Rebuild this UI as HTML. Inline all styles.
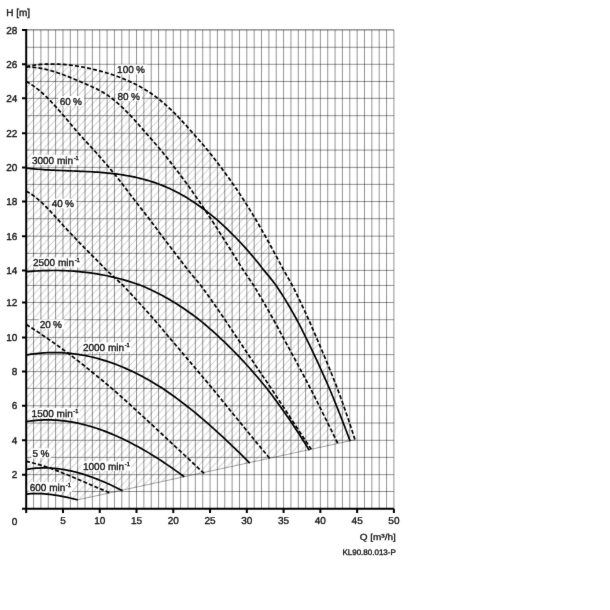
<!DOCTYPE html><html><head><meta charset="utf-8"><style>html,body{margin:0;padding:0;background:#fff;width:610px;height:610px;overflow:hidden}svg{display:block;will-change:transform}text{text-rendering:geometricPrecision;font-family:"Liberation Sans",sans-serif;fill:#141414;stroke:#141414;stroke-width:0.35px}</style></head><body>
<svg width="610" height="610" viewBox="0 0 610 610">
<defs><filter id="bl" color-interpolation-filters="sRGB" x="0" y="0" width="610" height="610" filterUnits="userSpaceOnUse"><feConvolveMatrix order="3" kernelMatrix="0.00524 0.06192 0.00524 0.06192 0.73137 0.06192 0.00524 0.06192 0.00524" edgeMode="duplicate"/></filter></defs>
<g filter="url(#bl)">
<rect width="610" height="610" fill="#fff"/>
<defs>
<pattern id="hp" patternUnits="userSpaceOnUse" x="26.200" y="509.000" width="7.354" height="7.942">
<path d="M0 7.942 L7.354 0 M-7.354 7.942 L0.000 0.000 M0.000 15.885 L14.708 0.000" stroke="#000" stroke-opacity="0.28" stroke-width="0.8" fill="none"/>
</pattern>
<clipPath id="hc"><polygon points="26.20,66.54 28.67,66.07 31.14,65.65 33.61,65.27 36.09,64.95 38.56,64.68 41.03,64.46 43.50,64.28 45.97,64.15 48.44,64.07 50.92,64.03 53.39,64.03 55.86,64.08 58.33,64.17 60.80,64.29 63.27,64.46 65.75,64.67 68.22,64.91 70.69,65.19 73.16,65.51 75.63,65.86 78.10,66.25 80.58,66.67 83.05,67.12 85.52,67.60 87.99,68.12 90.46,68.66 92.93,69.23 95.41,69.83 97.88,70.45 100.35,71.11 102.82,71.78 105.29,72.49 107.76,73.22 110.23,73.99 112.71,74.79 115.18,75.64 117.65,76.52 120.12,77.44 122.59,78.41 125.06,79.43 127.54,80.50 130.01,81.62 132.48,82.77 134.95,83.98 137.42,85.25 139.89,86.58 142.37,87.98 144.84,89.44 147.31,90.97 149.78,92.57 152.25,94.24 154.72,95.99 157.20,97.82 159.67,99.77 162.14,101.82 164.61,103.95 167.08,106.15 169.55,108.42 172.02,110.77 174.50,113.18 176.97,115.66 179.44,118.24 181.91,120.87 184.38,123.56 186.85,126.30 189.33,129.09 191.80,131.92 194.27,134.73 196.74,137.50 199.21,140.31 201.68,143.16 204.16,146.05 206.63,148.98 209.10,152.01 211.57,155.12 214.04,158.28 216.51,161.48 218.99,164.74 221.46,168.04 223.93,171.34 226.40,174.70 228.87,178.12 231.34,181.59 233.82,185.13 236.29,188.77 238.76,192.46 241.23,196.21 243.70,200.02 246.17,203.89 248.64,207.82 251.12,211.82 253.59,215.87 256.06,220.00 258.53,224.24 261.00,228.54 263.47,232.90 265.95,237.31 268.42,241.75 270.89,246.25 273.36,250.81 275.83,255.41 278.30,260.03 280.78,264.70 283.25,269.43 285.72,273.77 288.19,278.05 290.66,282.38 293.13,286.92 295.61,291.93 298.08,297.00 300.55,302.12 303.02,307.36 305.49,312.66 307.96,318.04 310.43,323.60 312.91,329.29 315.38,335.06 317.85,340.81 320.32,346.59 322.79,352.46 325.26,358.37 327.74,364.36 330.21,370.44 332.68,376.58 335.15,382.81 337.62,389.20 340.09,395.92 342.57,402.79 345.04,409.79 347.51,416.94 349.98,424.27 352.45,431.80 354.92,439.53 354.92,439.78 77.68,499.83 77.68,499.83 75.10,499.21 72.53,498.60 69.96,498.01 67.38,497.44 64.81,496.90 62.23,496.38 59.66,495.90 57.09,495.46 54.51,495.05 51.94,494.69 49.37,494.37 46.79,494.10 44.22,493.88 41.64,493.72 39.07,493.62 36.50,493.58 33.92,493.60 31.35,493.70 28.77,493.86 26.20,494.11"/></clipPath>
</defs>
<rect x="0" y="0" width="610" height="610" fill="url(#hp)" clip-path="url(#hc)"/>
<path d="M33.55 29.90 V508.85 M40.91 29.90 V508.85 M48.26 29.90 V508.85 M55.62 29.90 V508.85 M62.97 29.90 V508.85 M70.32 29.90 V508.85 M77.68 29.90 V508.85 M85.03 29.90 V508.85 M92.39 29.90 V508.85 M99.74 29.90 V508.85 M107.09 29.90 V508.85 M114.45 29.90 V508.85 M121.80 29.90 V508.85 M129.16 29.90 V508.85 M136.51 29.90 V508.85 M143.86 29.90 V508.85 M151.22 29.90 V508.85 M158.57 29.90 V508.85 M165.93 29.90 V508.85 M173.28 29.90 V508.85 M180.63 29.90 V508.85 M187.99 29.90 V508.85 M195.34 29.90 V508.85 M202.70 29.90 V508.85 M210.05 29.90 V508.85 M217.40 29.90 V508.85 M224.76 29.90 V508.85 M232.11 29.90 V508.85 M239.47 29.90 V508.85 M246.82 29.90 V508.85 M254.17 29.90 V508.85 M261.53 29.90 V508.85 M268.88 29.90 V508.85 M276.24 29.90 V508.85 M283.59 29.90 V508.85 M290.94 29.90 V508.85 M298.30 29.90 V508.85 M305.65 29.90 V508.85 M313.01 29.90 V508.85 M320.36 29.90 V508.85 M327.71 29.90 V508.85 M335.07 29.90 V508.85 M342.42 29.90 V508.85 M349.78 29.90 V508.85 M357.13 29.90 V508.85 M364.48 29.90 V508.85 M371.84 29.90 V508.85 M379.19 29.90 V508.85 M386.55 29.90 V508.85 M393.90 29.90 V508.85 M26.20 491.50 H393.90 M26.20 474.65 H393.90 M26.20 457.39 H393.90 M26.20 440.30 H393.90 M26.20 423.02 H393.90 M26.20 405.77 H393.90 M26.20 388.40 H393.90 M26.20 371.60 H393.90 M26.20 354.60 H393.90 M26.20 337.40 H393.90 M26.20 319.70 H393.90 M26.20 302.50 H393.90 M26.20 285.45 H393.90 M26.20 270.40 H393.90 M26.20 253.39 H393.90 M26.20 236.15 H393.90 M26.20 218.74 H393.90 M26.20 201.56 H393.90 M26.20 184.38 H393.90 M26.20 167.40 H393.90 M26.20 150.08 H393.90 M26.20 133.28 H393.90 M26.20 115.66 H393.90 M26.20 98.33 H393.90 M26.20 81.48 H393.90 M26.20 64.30 H393.90 M26.20 47.25 H393.90 M26.20 29.90 H393.90" stroke="#000" stroke-opacity="0.42" stroke-width="1" fill="none"/>
<path d="M26.20 29.90 H393.90" stroke="#000" stroke-opacity="0.42" stroke-width="0.7" fill="none"/>
<path d="M77.68 499.83 L354.92 439.78" stroke="#000" stroke-opacity="0.45" stroke-width="0.8" fill="none"/>
<rect x="115.90" y="64.60" width="31.05" height="9.80" fill="#fff"/>
<rect x="116.30" y="91.10" width="25.49" height="9.80" fill="#fff"/>
<rect x="58.50" y="96.10" width="25.49" height="9.80" fill="#fff"/>
<rect x="50.50" y="198.60" width="25.49" height="9.80" fill="#fff"/>
<rect x="38.50" y="319.30" width="25.49" height="9.80" fill="#fff"/>
<rect x="31.40" y="448.40" width="19.93" height="9.80" fill="#fff"/>
<rect x="30.70" y="155.10" width="49.33" height="9.80" fill="#fff"/>
<rect x="31.70" y="257.50" width="49.33" height="9.80" fill="#fff"/>
<rect x="81.70" y="342.20" width="49.33" height="9.80" fill="#fff"/>
<rect x="30.40" y="408.10" width="49.33" height="9.80" fill="#fff"/>
<rect x="81.80" y="461.20" width="49.33" height="9.80" fill="#fff"/>
<rect x="28.50" y="482.10" width="43.77" height="9.80" fill="#fff"/>
<path d="M26.20 168.07 L28.67 168.35 L31.15 168.61 L33.62 168.84 L36.09 169.06 L38.56 169.26 L41.04 169.45 L43.51 169.62 L45.98 169.78 L48.46 169.92 L50.93 170.06 L53.40 170.18 L55.87 170.30 L58.35 170.41 L60.82 170.51 L63.29 170.61 L65.77 170.70 L68.24 170.80 L70.71 170.89 L73.18 170.98 L75.66 171.08 L78.13 171.17 L80.60 171.28 L83.08 171.38 L85.55 171.50 L88.02 171.62 L90.49 171.75 L92.97 171.90 L95.44 172.05 L97.91 172.22 L100.39 172.40 L102.86 172.60 L105.33 172.81 L107.80 173.05 L110.28 173.30 L112.75 173.57 L115.22 173.87 L117.70 174.19 L120.17 174.53 L122.64 174.90 L125.11 175.30 L127.59 175.72 L130.06 176.18 L132.53 176.66 L135.01 177.18 L137.48 177.74 L139.95 178.32 L142.42 178.95 L144.90 179.61 L147.37 180.31 L149.84 181.04 L152.32 181.82 L154.79 182.65 L157.26 183.51 L159.73 184.43 L162.21 185.40 L164.68 186.41 L167.15 187.48 L169.63 188.60 L172.10 189.76 L174.57 190.98 L177.04 192.25 L179.52 193.57 L181.99 194.93 L184.46 196.35 L186.94 197.82 L189.41 199.35 L191.88 200.92 L194.35 202.54 L196.83 204.22 L199.30 205.94 L201.77 207.72 L204.25 209.55 L206.72 211.43 L209.19 213.36 L211.66 215.34 L214.14 217.37 L216.61 219.47 L219.08 221.64 L221.56 223.86 L224.03 226.13 L226.50 228.46 L228.97 230.84 L231.45 233.27 L233.92 235.75 L236.39 238.27 L238.87 240.85 L241.34 243.48 L243.81 246.17 L246.28 248.92 L248.76 251.74 L251.23 254.61 L253.70 257.52 L256.18 260.51 L258.65 263.57 L261.12 266.70 L263.59 269.91 L266.07 272.87 L268.54 275.85 L271.01 278.90 L273.49 282.03 L275.96 285.23 L278.43 288.93 L280.90 292.74 L283.38 296.64 L285.85 300.64 L288.32 304.75 L290.80 308.99 L293.27 313.32 L295.74 317.76 L298.21 322.38 L300.69 327.17 L303.16 332.08 L305.63 337.09 L308.11 342.07 L310.58 347.15 L313.05 352.33 L315.52 357.57 L318.00 362.89 L320.47 368.31 L322.94 373.79 L325.42 379.33 L327.89 384.97 L330.36 390.77 L332.83 396.78 L335.31 402.89 L337.78 409.06 L340.25 415.30 L342.73 421.63 L345.20 428.05 L347.67 434.56 L350.14 441.15" stroke="#000" stroke-width="1.7" fill="none" stroke-linejoin="round"/>
<path d="M26.20 271.77 L28.68 271.55 L31.17 271.36 L33.65 271.18 L36.13 271.02 L38.62 270.88 L41.10 270.76 L43.59 270.66 L46.07 270.58 L48.55 270.53 L51.04 270.49 L53.52 270.48 L56.00 270.48 L58.49 270.51 L60.97 270.56 L63.45 270.63 L65.94 270.73 L68.42 270.84 L70.90 270.98 L73.39 271.15 L75.87 271.33 L78.36 271.54 L80.84 271.78 L83.32 272.04 L85.81 272.32 L88.29 272.63 L90.77 272.96 L93.26 273.32 L95.74 273.70 L98.22 274.11 L100.71 274.55 L103.19 275.01 L105.67 275.50 L108.16 276.01 L110.64 276.55 L113.13 277.12 L115.61 277.72 L118.09 278.35 L120.58 279.00 L123.06 279.68 L125.54 280.39 L128.03 281.13 L130.51 281.89 L132.99 282.69 L135.48 283.52 L137.96 284.37 L140.45 285.26 L142.93 286.27 L145.41 287.34 L147.90 288.45 L150.38 289.59 L152.86 290.77 L155.35 291.98 L157.83 293.23 L160.31 294.52 L162.80 295.84 L165.28 297.20 L167.76 298.59 L170.25 300.03 L172.73 301.50 L175.22 303.01 L177.70 304.57 L180.18 306.17 L182.67 307.81 L185.15 309.49 L187.63 311.21 L190.12 312.97 L192.60 314.77 L195.08 316.61 L197.57 318.49 L200.05 320.43 L202.53 322.45 L205.02 324.51 L207.50 326.62 L209.99 328.77 L212.47 330.97 L214.95 333.20 L217.44 335.49 L219.92 337.80 L222.40 340.11 L224.89 342.46 L227.37 344.85 L229.85 347.29 L232.34 349.77 L234.82 352.30 L237.30 354.87 L239.79 357.46 L242.27 360.10 L244.76 362.78 L247.24 365.51 L249.72 368.28 L252.21 371.10 L254.69 373.94 L257.17 376.82 L259.66 379.75 L262.14 382.72 L264.62 385.75 L267.11 388.83 L269.59 392.05 L272.08 395.33 L274.56 398.65 L277.04 402.03 L279.53 405.45 L282.01 408.91 L284.49 412.41 L286.98 415.97 L289.46 419.58 L291.94 423.23 L294.43 426.95 L296.91 430.72 L299.39 434.55 L301.88 438.42 L304.36 442.33 L306.85 446.27 L309.33 450.27" stroke="#000" stroke-width="1.7" fill="none" stroke-linejoin="round"/>
<path d="M26.20 354.98 L28.68 354.56 L31.17 354.18 L33.65 353.84 L36.14 353.54 L38.62 353.28 L41.10 353.05 L43.59 352.87 L46.07 352.73 L48.56 352.62 L51.04 352.56 L53.52 352.53 L56.01 352.55 L58.49 352.60 L60.98 352.69 L63.46 352.82 L65.94 352.99 L68.43 353.19 L70.91 353.44 L73.40 353.73 L75.88 354.05 L78.36 354.41 L80.85 354.81 L83.33 355.24 L85.82 355.71 L88.30 356.22 L90.78 356.77 L93.27 357.36 L95.75 357.98 L98.24 358.64 L100.72 359.34 L103.20 360.07 L105.69 360.84 L108.17 361.65 L110.66 362.50 L113.14 363.38 L115.62 364.31 L118.11 365.26 L120.59 366.26 L123.08 367.29 L125.56 368.36 L128.04 369.47 L130.53 370.61 L133.01 371.79 L135.50 372.99 L137.98 374.23 L140.46 375.50 L142.95 376.81 L145.43 378.16 L147.92 379.54 L150.40 380.96 L152.88 382.41 L155.37 383.90 L157.85 385.42 L160.34 386.97 L162.82 388.56 L165.30 390.24 L167.79 391.94 L170.27 393.68 L172.76 395.45 L175.24 397.26 L177.73 399.09 L180.21 400.96 L182.69 402.85 L185.18 404.77 L187.66 406.72 L190.15 408.69 L192.63 410.69 L195.11 412.71 L197.60 414.76 L200.08 416.84 L202.57 418.94 L205.05 421.07 L207.53 423.22 L210.02 425.41 L212.50 427.61 L214.99 429.84 L217.47 432.10 L219.95 434.37 L222.44 436.67 L224.92 438.99 L227.41 441.32 L229.89 443.66 L232.37 446.01 L234.86 448.39 L237.34 450.78 L239.83 453.20 L242.31 455.63 L244.79 458.09 L247.28 460.58 L249.76 463.08" stroke="#000" stroke-width="1.7" fill="none" stroke-linejoin="round"/>
<path d="M26.20 421.65 L28.71 421.25 L31.22 420.91 L33.73 420.62 L36.24 420.38 L38.75 420.19 L41.26 420.05 L43.77 419.95 L46.28 419.91 L48.79 419.91 L51.30 419.95 L53.81 420.05 L56.32 420.18 L58.83 420.37 L61.34 420.60 L63.85 420.87 L66.36 421.19 L68.86 421.55 L71.37 421.95 L73.88 422.40 L76.39 422.89 L78.90 423.42 L81.41 423.99 L83.92 424.60 L86.43 425.25 L88.94 425.95 L91.45 426.68 L93.96 427.45 L96.47 428.26 L98.98 429.10 L101.49 429.99 L104.00 430.91 L106.51 431.87 L109.02 432.86 L111.53 433.89 L114.04 434.96 L116.55 436.05 L119.06 437.19 L121.57 438.35 L124.08 439.55 L126.59 440.78 L129.10 442.03 L131.61 443.31 L134.12 444.63 L136.63 445.97 L139.14 447.34 L141.65 448.75 L144.16 450.18 L146.67 451.64 L149.18 453.13 L151.68 454.65 L154.19 456.19 L156.70 457.76 L159.21 459.38 L161.72 461.02 L164.23 462.68 L166.74 464.37 L169.25 466.09 L171.76 467.82 L174.27 469.59 L176.78 471.37 L179.29 473.18 L181.80 475.00 L184.31 476.81" stroke="#000" stroke-width="1.7" fill="none" stroke-linejoin="round"/>
<path d="M26.20 469.47 L28.74 469.05 L31.27 468.70 L33.81 468.41 L36.34 468.19 L38.88 468.03 L41.41 467.93 L43.95 467.89 L46.48 467.91 L49.02 467.99 L51.55 468.13 L54.09 468.32 L56.62 468.57 L59.16 468.87 L61.69 469.23 L64.23 469.64 L66.76 470.10 L69.30 470.61 L71.83 471.17 L74.37 471.78 L76.90 472.44 L79.44 473.14 L81.97 473.89 L84.51 474.68 L87.04 475.50 L89.58 476.35 L92.12 477.25 L94.65 478.19 L97.19 479.16 L99.72 480.17 L102.26 481.22 L104.79 482.30 L107.33 483.42 L109.86 484.57 L112.40 485.76 L114.93 486.97 L117.47 488.22 L120.00 489.49 L122.54 490.80" stroke="#000" stroke-width="1.7" fill="none" stroke-linejoin="round"/>
<path d="M26.20 494.11 L28.77 493.86 L31.35 493.70 L33.92 493.60 L36.50 493.58 L39.07 493.62 L41.64 493.72 L44.22 493.88 L46.79 494.10 L49.37 494.37 L51.94 494.69 L54.51 495.05 L57.09 495.46 L59.66 495.90 L62.23 496.38 L64.81 496.90 L67.38 497.44 L69.96 498.01 L72.53 498.60 L75.10 499.21 L77.68 499.83" stroke="#000" stroke-width="1.7" fill="none" stroke-linejoin="round"/>
<path d="M26.20 66.54 L28.67 66.07 L31.14 65.65 L33.61 65.27 L36.09 64.95 L38.56 64.68 L41.03 64.46 L43.50 64.28 L45.97 64.15 L48.44 64.07 L50.92 64.03 L53.39 64.03 L55.86 64.08 L58.33 64.17 L60.80 64.29 L63.27 64.46 L65.75 64.67 L68.22 64.91 L70.69 65.19 L73.16 65.51 L75.63 65.86 L78.10 66.25 L80.58 66.67 L83.05 67.12 L85.52 67.60 L87.99 68.12 L90.46 68.66 L92.93 69.23 L95.41 69.83 L97.88 70.45 L100.35 71.11 L102.82 71.78 L105.29 72.49 L107.76 73.22 L110.23 73.99 L112.71 74.79 L115.18 75.64 L117.65 76.52 L120.12 77.44 L122.59 78.41 L125.06 79.43 L127.54 80.50 L130.01 81.62 L132.48 82.77 L134.95 83.98 L137.42 85.25 L139.89 86.58 L142.37 87.98 L144.84 89.44 L147.31 90.97 L149.78 92.57 L152.25 94.24 L154.72 95.99 L157.20 97.82 L159.67 99.77 L162.14 101.82 L164.61 103.95 L167.08 106.15 L169.55 108.42 L172.02 110.77 L174.50 113.18 L176.97 115.66 L179.44 118.24 L181.91 120.87 L184.38 123.56 L186.85 126.30 L189.33 129.09 L191.80 131.92 L194.27 134.73 L196.74 137.50 L199.21 140.31 L201.68 143.16 L204.16 146.05 L206.63 148.98 L209.10 152.01 L211.57 155.12 L214.04 158.28 L216.51 161.48 L218.99 164.74 L221.46 168.04 L223.93 171.34 L226.40 174.70 L228.87 178.12 L231.34 181.59 L233.82 185.13 L236.29 188.77 L238.76 192.46 L241.23 196.21 L243.70 200.02 L246.17 203.89 L248.64 207.82 L251.12 211.82 L253.59 215.87 L256.06 220.00 L258.53 224.24 L261.00 228.54 L263.47 232.90 L265.95 237.31 L268.42 241.75 L270.89 246.25 L273.36 250.81 L275.83 255.41 L278.30 260.03 L280.78 264.70 L283.25 269.43 L285.72 273.77 L288.19 278.05 L290.66 282.38 L293.13 286.92 L295.61 291.93 L298.08 297.00 L300.55 302.12 L303.02 307.36 L305.49 312.66 L307.96 318.04 L310.43 323.60 L312.91 329.29 L315.38 335.06 L317.85 340.81 L320.32 346.59 L322.79 352.46 L325.26 358.37 L327.74 364.36 L330.21 370.44 L332.68 376.58 L335.15 382.81 L337.62 389.20 L340.09 395.92 L342.57 402.79 L345.04 409.79 L347.51 416.94 L349.98 424.27 L352.45 431.80 L354.92 439.53" stroke="#000" stroke-width="1.7" fill="none" stroke-dasharray="4.020 2.111"/>
<path d="M26.20 66.87 L28.67 66.93 L31.14 67.06 L33.62 67.28 L36.09 67.57 L38.56 67.93 L41.03 68.36 L43.50 68.86 L45.97 69.41 L48.45 70.03 L50.92 70.70 L53.39 71.42 L55.86 72.20 L58.33 73.01 L60.80 73.87 L63.28 74.76 L65.75 75.69 L68.22 76.65 L70.69 77.64 L73.16 78.65 L75.64 79.68 L78.11 80.73 L80.58 81.78 L83.05 82.84 L85.52 83.89 L87.99 84.96 L90.47 86.05 L92.94 87.17 L95.41 88.34 L97.88 89.57 L100.35 90.87 L102.82 92.27 L105.30 93.76 L107.77 95.38 L110.24 97.11 L112.71 98.98 L115.18 101.00 L117.66 103.13 L120.13 105.36 L122.60 107.67 L125.07 110.07 L127.54 112.55 L130.01 115.10 L132.49 117.75 L134.96 120.47 L137.43 123.23 L139.90 126.03 L142.37 128.87 L144.84 131.74 L147.32 134.57 L149.79 137.36 L152.26 140.16 L154.73 143.00 L157.20 145.87 L159.68 148.76 L162.15 151.74 L164.62 154.80 L167.09 157.89 L169.56 161.02 L172.03 164.19 L174.51 167.41 L176.98 170.60 L179.45 173.84 L181.92 177.12 L184.39 180.45 L186.86 183.83 L189.34 187.28 L191.81 190.77 L194.28 194.31 L196.75 197.88 L199.22 201.49 L201.70 205.12 L204.17 208.79 L206.64 212.48 L209.11 216.20 L211.58 219.96 L214.05 223.78 L216.53 227.62 L219.00 231.48 L221.47 235.37 L223.94 239.25 L226.41 243.14 L228.88 247.06 L231.36 251.01 L233.83 254.96 L236.30 258.90 L238.77 262.86 L241.24 266.85 L243.71 270.82 L246.19 274.39 L248.66 277.99 L251.13 281.61 L253.60 285.26 L256.07 289.39 L258.55 293.57 L261.02 297.78 L263.49 302.02 L265.96 306.32 L268.43 310.65 L270.90 315.01 L273.38 319.39 L275.85 323.93 L278.32 328.50 L280.79 333.10 L283.26 337.73 L285.73 342.25 L288.21 346.81 L290.68 351.40 L293.15 355.99 L295.62 360.58 L298.09 365.20 L300.57 369.84 L303.04 374.47 L305.51 379.11 L307.98 383.77 L310.45 388.46 L312.92 393.34 L315.40 398.24 L317.87 403.17 L320.34 408.10 L322.81 413.04 L325.28 418.01 L327.75 423.01 L330.23 428.03 L332.70 433.08 L335.17 438.16 L337.64 443.23" stroke="#000" stroke-width="1.7" fill="none" stroke-dasharray="4.020 2.110"/>
<path d="M26.20 81.49 L28.68 82.85 L31.16 84.38 L33.64 86.07 L36.12 87.90 L38.60 89.87 L41.08 91.97 L43.55 94.19 L46.03 96.51 L48.51 98.95 L50.99 101.52 L53.47 104.18 L55.95 106.90 L58.43 109.69 L60.91 112.52 L63.39 115.38 L65.87 118.32 L68.35 121.28 L70.83 124.24 L73.31 127.20 L75.79 130.14 L78.26 133.06 L80.74 135.82 L83.22 138.54 L85.70 141.24 L88.18 143.93 L90.66 146.61 L93.14 149.30 L95.62 152.05 L98.10 154.84 L100.58 157.66 L103.06 160.50 L105.54 163.39 L108.02 166.32 L110.49 169.26 L112.97 172.24 L115.45 175.28 L117.93 178.39 L120.41 181.55 L122.89 184.76 L125.37 188.02 L127.85 191.30 L130.33 194.58 L132.81 197.85 L135.29 201.09 L137.77 204.30 L140.25 207.47 L142.73 210.62 L145.20 213.77 L147.68 216.93 L150.16 220.13 L152.64 223.41 L155.12 226.72 L157.60 230.06 L160.08 233.41 L162.56 236.76 L165.04 240.07 L167.52 243.35 L170.00 246.60 L172.48 249.84 L174.96 253.07 L177.43 256.26 L179.91 259.46 L182.39 262.69 L184.87 265.94 L187.35 269.21 L189.83 272.27 L192.31 275.21 L194.79 278.17 L197.27 281.15 L199.75 284.15 L202.23 287.39 L204.71 290.82 L207.19 294.28 L209.67 297.75 L212.14 301.24 L214.62 304.77 L217.10 308.32 L219.58 311.89 L222.06 315.48 L224.54 319.08 L227.02 322.78 L229.50 326.50 L231.98 330.25 L234.46 334.00 L236.94 337.75 L239.42 341.42 L241.90 345.10 L244.37 348.78 L246.85 352.47 L249.33 356.15 L251.81 359.82 L254.29 363.48 L256.77 367.16 L259.25 370.84 L261.73 374.48 L264.21 378.13 L266.69 381.78 L269.17 385.43 L271.65 389.11 L274.13 392.89 L276.60 396.68 L279.08 400.46 L281.56 404.25 L284.04 408.03 L286.52 411.79 L289.00 415.56 L291.48 419.33 L293.96 423.10 L296.44 426.87 L298.92 430.64 L301.40 434.41 L303.88 438.18 L306.36 441.93 L308.84 445.66 L311.31 449.38" stroke="#000" stroke-width="1.7" fill="none" stroke-dasharray="3.996 2.098"/>
<path d="M26.20 191.26 L28.68 192.55 L31.17 194.06 L33.65 195.78 L36.14 197.69 L38.62 199.77 L41.10 201.99 L43.59 204.35 L46.07 206.82 L48.55 209.38 L51.04 212.02 L53.52 214.70 L56.01 217.43 L58.49 220.18 L60.97 222.96 L63.46 225.70 L65.94 228.42 L68.43 231.09 L70.91 233.74 L73.39 236.36 L75.88 238.94 L78.36 241.50 L80.84 244.04 L83.33 246.57 L85.81 249.10 L88.30 251.63 L90.78 254.15 L93.26 256.65 L95.75 259.16 L98.23 261.68 L100.72 264.21 L103.20 266.75 L105.68 269.29 L108.17 271.68 L110.65 273.96 L113.13 276.24 L115.62 278.53 L118.10 280.83 L120.59 283.14 L123.07 285.46 L125.55 288.10 L128.04 290.75 L130.52 293.42 L133.01 296.09 L135.49 298.78 L137.97 301.48 L140.46 304.21 L142.94 306.97 L145.42 309.73 L147.91 312.51 L150.39 315.30 L152.88 318.11 L155.36 320.97 L157.84 323.88 L160.33 326.82 L162.81 329.76 L165.30 332.72 L167.78 335.68 L170.26 338.63 L172.75 341.53 L175.23 344.45 L177.71 347.38 L180.20 350.32 L182.68 353.26 L185.17 356.20 L187.65 359.13 L190.13 362.06 L192.62 365.00 L195.10 367.95 L197.59 370.91 L200.07 373.85 L202.55 376.78 L205.04 379.72 L207.52 382.66 L210.00 385.61 L212.49 388.56 L214.97 391.61 L217.46 394.67 L219.94 397.73 L222.42 400.79 L224.91 403.85 L227.39 406.91 L229.88 409.95 L232.36 412.99 L234.84 416.04 L237.33 419.08 L239.81 422.12 L242.30 425.16 L244.78 428.20 L247.26 431.24 L249.75 434.28 L252.23 437.31 L254.71 440.34 L257.20 443.34 L259.68 446.32 L262.17 449.31 L264.65 452.28 L267.13 455.25 L269.62 458.23" stroke="#000" stroke-width="1.7" fill="none" stroke-dasharray="3.980 2.089"/>
<path d="M26.20 324.55 L28.71 326.09 L31.21 327.67 L33.72 329.26 L36.23 330.89 L38.73 332.55 L41.24 334.23 L43.75 335.93 L46.25 337.66 L48.76 339.36 L51.27 341.10 L53.77 342.85 L56.28 344.63 L58.79 346.43 L61.29 348.25 L63.80 350.10 L66.31 351.96 L68.81 353.85 L71.32 355.74 L73.82 357.65 L76.33 359.57 L78.84 361.51 L81.34 363.47 L83.85 365.45 L86.36 367.45 L88.86 369.46 L91.37 371.49 L93.88 373.51 L96.38 375.55 L98.89 377.60 L101.40 379.66 L103.90 381.74 L106.41 383.84 L108.92 385.94 L111.42 388.06 L113.93 390.25 L116.44 392.47 L118.94 394.70 L121.45 396.94 L123.96 399.19 L126.46 401.44 L128.97 403.71 L131.48 405.99 L133.98 408.26 L136.49 410.54 L139.00 412.83 L141.50 415.13 L144.01 417.43 L146.52 419.74 L149.02 422.06 L151.53 424.38 L154.04 426.71 L156.54 429.04 L159.05 431.38 L161.56 433.73 L164.06 436.07 L166.57 438.42 L169.07 440.77 L171.58 443.10 L174.09 445.42 L176.59 447.76 L179.10 450.09 L181.61 452.42 L184.11 454.75 L186.62 457.08 L189.13 459.43 L191.63 461.78 L194.14 464.12 L196.65 466.47 L199.15 468.81 L201.66 471.15 L204.17 473.48" stroke="#000" stroke-width="1.7" fill="none" stroke-dasharray="4.049 2.126"/>
<path d="M26.20 461.38 L28.80 461.95 L31.39 462.56 L33.99 463.23 L36.59 463.93 L39.18 464.68 L41.78 465.47 L44.38 466.29 L46.98 467.15 L49.57 468.04 L52.17 468.97 L54.77 469.92 L57.36 470.90 L59.96 471.90 L62.56 472.93 L65.15 473.98 L67.75 475.04 L70.35 476.09 L72.94 477.17 L75.54 478.25 L78.14 479.35 L80.73 480.46 L83.33 481.57 L85.93 482.69 L88.53 483.81 L91.12 484.94 L93.72 486.06 L96.32 487.18 L98.91 488.29 L101.51 489.40 L104.11 490.50 L106.70 491.59 L109.30 492.70" stroke="#000" stroke-width="1.7" fill="none" stroke-dasharray="3.979 2.089"/>
<path d="M26.20 28.90 V513.00 M22 508.85 H393.90 M22 474.65 H26.20 M22 440.30 H26.20 M22 405.77 H26.20 M22 371.60 H26.20 M22 337.40 H26.20 M22 302.50 H26.20 M22 270.40 H26.20 M22 236.15 H26.20 M22 201.56 H26.20 M22 167.40 H26.20 M22 133.28 H26.20 M22 98.33 H26.20 M22 64.30 H26.20 M22 29.90 H26.20 M26.20 508.85 V513 M62.97 508.85 V513 M99.74 508.85 V513 M136.51 508.85 V513 M173.28 508.85 V513 M210.05 508.85 V513 M246.82 508.85 V513 M283.59 508.85 V513 M320.36 508.85 V513 M357.13 508.85 V513 M393.90 508.85 V513" stroke="#000" stroke-width="2" fill="none"/>
<text transform="translate(117.10 73.20) scale(1 1.000)" font-size="10">100<tspan dx="-0.5">&#160;</tspan>%</text>
<text transform="translate(117.50 99.70) scale(1 1.000)" font-size="10">80<tspan dx="-0.5">&#160;</tspan>%</text>
<text transform="translate(59.70 104.70) scale(1 1.000)" font-size="10">60<tspan dx="-0.5">&#160;</tspan>%</text>
<text transform="translate(51.70 207.20) scale(1 1.000)" font-size="10">40<tspan dx="-0.5">&#160;</tspan>%</text>
<text transform="translate(39.70 327.90) scale(1 1.000)" font-size="10">20<tspan dx="-0.5">&#160;</tspan>%</text>
<text transform="translate(32.60 457.00) scale(1 1.000)" font-size="10">5<tspan dx="-0.5">&#160;</tspan>%</text>
<text transform="translate(31.90 163.70) scale(1 1.000)" font-size="10">3000 min<tspan font-size="5.8" dx="0.6" dy="-4.0">-1</tspan></text>
<text transform="translate(32.90 266.10) scale(1 1.000)" font-size="10">2500 min<tspan font-size="5.8" dx="0.6" dy="-4.0">-1</tspan></text>
<text transform="translate(82.90 350.80) scale(1 1.000)" font-size="10">2000 min<tspan font-size="5.8" dx="0.6" dy="-4.0">-1</tspan></text>
<text transform="translate(31.60 416.70) scale(1 1.000)" font-size="10">1500 min<tspan font-size="5.8" dx="0.6" dy="-4.0">-1</tspan></text>
<text transform="translate(83.00 469.80) scale(1 1.000)" font-size="10">1000 min<tspan font-size="5.8" dx="0.6" dy="-4.0">-1</tspan></text>
<text transform="translate(29.70 490.70) scale(1 1.000)" font-size="10">600 min<tspan font-size="5.8" dx="0.6" dy="-4.0">-1</tspan></text>
<text transform="translate(17.30 478.25) scale(1 1.000)" font-size="10" text-anchor="end">2</text>
<text transform="translate(17.30 443.90) scale(1 1.000)" font-size="10" text-anchor="end">4</text>
<text transform="translate(17.30 409.37) scale(1 1.000)" font-size="10" text-anchor="end">6</text>
<text transform="translate(17.30 375.20) scale(1 1.000)" font-size="10" text-anchor="end">8</text>
<text transform="translate(17.30 341.00) scale(1 1.000)" font-size="10" text-anchor="end">10</text>
<text transform="translate(17.30 306.10) scale(1 1.000)" font-size="10" text-anchor="end">12</text>
<text transform="translate(17.30 274.00) scale(1 1.000)" font-size="10" text-anchor="end">14</text>
<text transform="translate(17.30 239.75) scale(1 1.000)" font-size="10" text-anchor="end">16</text>
<text transform="translate(17.30 205.16) scale(1 1.000)" font-size="10" text-anchor="end">18</text>
<text transform="translate(17.30 171.00) scale(1 1.000)" font-size="10" text-anchor="end">20</text>
<text transform="translate(17.30 136.88) scale(1 1.000)" font-size="10" text-anchor="end">22</text>
<text transform="translate(17.30 101.93) scale(1 1.000)" font-size="10" text-anchor="end">24</text>
<text transform="translate(17.30 67.90) scale(1 1.000)" font-size="10" text-anchor="end">26</text>
<text transform="translate(17.30 33.50) scale(1 1.000)" font-size="10" text-anchor="end">28</text>
<text transform="translate(62.97 524.40) scale(1 1.000)" font-size="10" text-anchor="middle">5</text>
<text transform="translate(99.74 524.40) scale(1 1.000)" font-size="10" text-anchor="middle">10</text>
<text transform="translate(136.51 524.40) scale(1 1.000)" font-size="10" text-anchor="middle">15</text>
<text transform="translate(173.28 524.40) scale(1 1.000)" font-size="10" text-anchor="middle">20</text>
<text transform="translate(210.05 524.40) scale(1 1.000)" font-size="10" text-anchor="middle">25</text>
<text transform="translate(246.82 524.40) scale(1 1.000)" font-size="10" text-anchor="middle">30</text>
<text transform="translate(283.59 524.40) scale(1 1.000)" font-size="10" text-anchor="middle">35</text>
<text transform="translate(320.36 524.40) scale(1 1.000)" font-size="10" text-anchor="middle">40</text>
<text transform="translate(357.13 524.40) scale(1 1.000)" font-size="10" text-anchor="middle">45</text>
<text transform="translate(393.90 524.40) scale(1 1.000)" font-size="10" text-anchor="middle">50</text>
<text transform="translate(17.30 524.60) scale(1 1.000)" font-size="10" text-anchor="end">0</text>
<text transform="translate(6.20 15.60) scale(1 1.000)" font-size="10">H [m]</text>
<text transform="translate(395.80 540.30) scale(1 0.880)" font-size="10" text-anchor="end">Q [m&#179;/h]</text>
<text transform="translate(395.80 554.90) scale(1 1.000)" font-size="8" text-anchor="end">KL90.80.013-P</text>
</g>
</svg></body></html>
